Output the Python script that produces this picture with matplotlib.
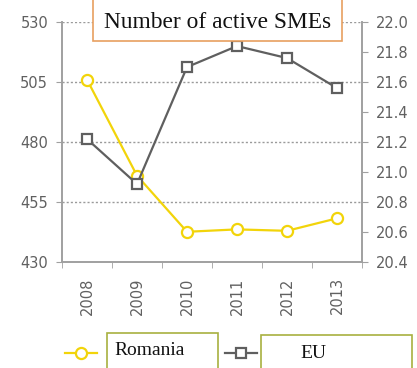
import matplotlib
matplotlib.use('Agg')
import matplotlib.pyplot as plt
from matplotlib.lines import Line2D

# datos
years = ['2008', '2009', '2010', '2011', '2012', '2013']
romania = [506, 466, 442.6, 443.6, 443, 448.2]   # eje izquierdo
eu = [21.22, 20.92, 21.70, 21.84, 21.76, 21.56]  # eje derecho

yellow = '#F2D40A'
gray_line = '#5F5F5F'
axis_gray = '#A0A0A0'
label_gray = '#606060'

fig = plt.figure(figsize=(4.17, 3.68), dpi=100)
ax = fig.add_axes([0.1487, 0.288, 0.7194, 0.652])
ax2 = ax.twinx()

x = list(range(len(years)))

ax.plot(x, romania, color=yellow, lw=1.6, marker='o', ms=8,
        mfc='white', mec=yellow, mew=1.6, zorder=3)
ax2.plot(x, eu, color=gray_line, lw=1.6, marker='s', ms=7,
         mfc='white', mec=gray_line, mew=1.6, zorder=3)

ax.set_xlim(-0.5, len(years) - 0.5)
ax.set_ylim(430, 530)
ax.set_yticks([430, 455, 480, 505, 530])
ax2.set_ylim(20.4, 22.0)
ax2.set_yticks([20.4 + 0.2 * i for i in range(9)])
ax2.set_yticklabels([f'{20.4 + 0.2 * i:.1f}' for i in range(9)])

# lineas de cuadricula punteadas
for v in [455, 480, 505, 530]:
    ax.axhline(v, color='#9A9A9A', lw=1.0, ls=(0, (1.5, 1.5)), zorder=1)

# eje x: etiquetas en el centro, marcas en los limites
ax.set_xticks(x)
ax.set_xticklabels(years, rotation=90)
ax.set_xticks([i - 0.5 for i in range(len(years) + 1)], minor=True)
ax.tick_params(axis='x', which='major', length=0, pad=11)
ax.tick_params(axis='x', which='minor', length=4, color=axis_gray, direction='out')

for a in (ax, ax2):
    a.spines['top'].set_visible(False)
    for s in ('left', 'right', 'bottom'):
        a.spines[s].set_color(axis_gray)
        a.spines[s].set_linewidth(1.2)
    a.tick_params(labelsize=10.5, labelcolor=label_gray, color=axis_gray)
ax.tick_params(axis='y', length=4, pad=6)
ax2.tick_params(axis='y', length=4, pad=6)

# titulo en recuadro (el borde superior queda fuera de la figura)
fig.patches.append(plt.Rectangle((0.223, 0.889), 0.597, 0.15, transform=fig.transFigure,
                                 fc='white', ec='#E8A060', lw=1.2, zorder=5))
fig.text(0.521, 0.940, 'Number of active SMEs', family='Liberation Serif',
         fontsize=16.8, ha='center', va='center', color='#111111', zorder=6)

# leyenda manual
fig.add_artist(Line2D([0.156, 0.232], [0.040, 0.040], color=yellow, lw=1.6,
                      transform=fig.transFigure))
fig.add_artist(Line2D([0.194], [0.040], marker='o', ms=8, mfc='white',
                      mec=yellow, mew=1.6, transform=fig.transFigure))
fig.add_artist(Line2D([0.540, 0.616], [0.040, 0.040], color=gray_line, lw=1.6,
                      transform=fig.transFigure))
fig.add_artist(Line2D([0.578], [0.040], marker='s', ms=7, mfc='white',
                      mec=gray_line, mew=1.6, transform=fig.transFigure))

fig.patches.append(plt.Rectangle((0.257, -0.01), 0.266, 0.105, transform=fig.transFigure,
                                 fc='white', ec='#A8B040', lw=1.2))
fig.text(0.275, 0.048, 'Romania', family='Liberation Serif', fontsize=14,
         ha='left', va='center', color='#111111')
fig.patches.append(plt.Rectangle((0.626, -0.01), 0.362, 0.100, transform=fig.transFigure,
                                 fc='white', ec='#A8B040', lw=1.2))
fig.text(0.751, 0.040, 'EU', family='Liberation Serif', fontsize=14,
         ha='center', va='center', color='#111111')

fig.savefig('out.png', dpi=100)
